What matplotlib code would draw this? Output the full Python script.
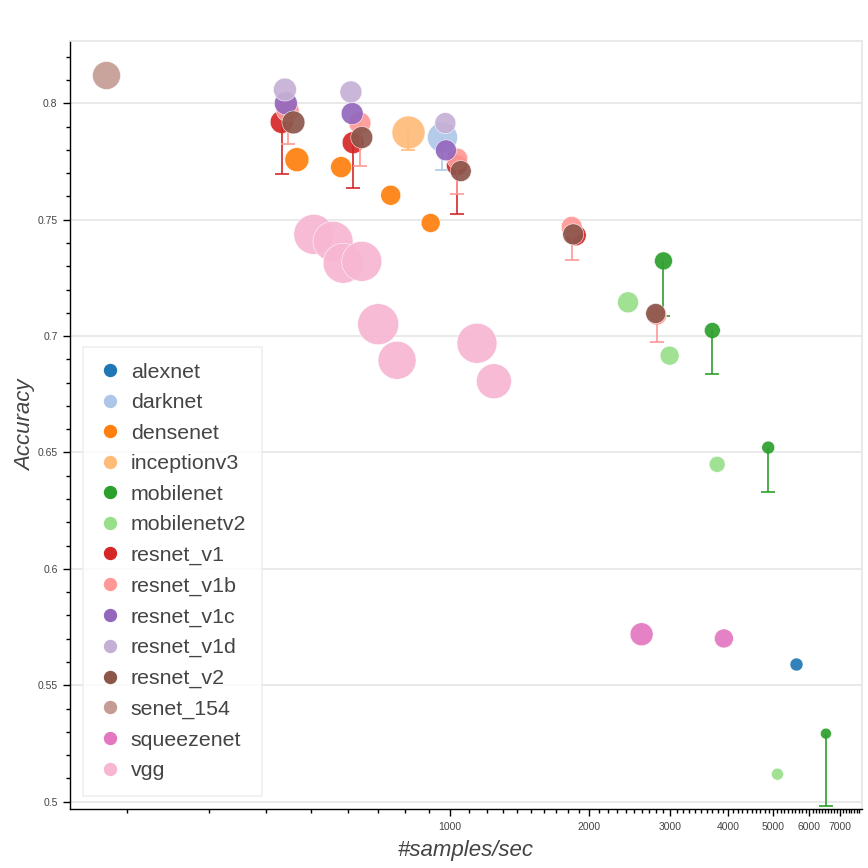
import numpy as np
import matplotlib
matplotlib.use('Agg')
import matplotlib.pyplot as plt
from matplotlib.lines import Line2D
from matplotlib.ticker import FixedLocator, FixedFormatter, NullFormatter, MultipleLocator

plt.rcParams['font.family'] = ['Liberation Sans', 'DejaVu Sans']

families = ['alexnet', 'darknet', 'densenet', 'inceptionv3', 'mobilenet', 'mobilenetv2',
            'resnet_v1', 'resnet_v1b', 'resnet_v1c', 'resnet_v1d', 'resnet_v2',
            'senet_154', 'squeezenet', 'vgg']
colors = ['#1f77b4', '#aec7e8', '#ff7f0e', '#ffbb78', '#2ca02c', '#98df8a',
          '#d62728', '#ff9896', '#9467bd', '#c5b0d5', '#8c564b',
          '#c49c94', '#e377c2', '#f7b6d2']

# one entry per model
point_family = (['alexnet', 'darknet'] + ['densenet'] * 4 + ['inceptionv3']
                + ['mobilenet'] * 4 + ['mobilenetv2'] * 4 + ['resnet_v1'] * 4
                + ['resnet_v1b'] * 5 + ['resnet_v1c'] * 3 + ['resnet_v1d'] * 3
                + ['resnet_v2'] * 5 + ['senet_154'] + ['squeezenet'] * 2 + ['vgg'] * 8)
samples_per_sec = [5620, 962,
                   466, 581, 744, 908,
                   812,
                   2900, 3700, 4890, 6520,
                   2430, 2990, 3790, 5120,
                   432, 617, 1035, 1872,
                   445, 638, 1037, 1835, 2804,
                   441, 614, 980,
                   439, 610, 977,
                   458, 644, 1055, 1849, 2790,
                   180,
                   2600, 3920,
                   507, 558, 587, 644, 699, 768, 1144, 1245]
accuracy = [0.5591, 0.7855,
            0.7758, 0.7726, 0.7605, 0.7486,
            0.7875,
            0.7323, 0.7024, 0.6521, 0.5292,
            0.7145, 0.6916, 0.6449, 0.5118,
            0.7920, 0.7831, 0.7734, 0.7433,
            0.7970, 0.7915, 0.7762, 0.7469, 0.7090,
            0.8000, 0.7956, 0.7798,
            0.8059, 0.8049, 0.7915,
            0.7918, 0.7853, 0.7709, 0.7437, 0.7097,
            0.8122,
            0.5719, 0.5701,
            0.7437, 0.7407, 0.7313, 0.7321, 0.7051, 0.6896, 0.6969, 0.6806]
accuracy_low = [np.nan, 0.7715,
                np.nan, np.nan, np.nan, np.nan,
                0.7798,
                0.7086, 0.6837, 0.6329, 0.4982,
                np.nan, np.nan, np.nan, np.nan,
                0.7695, 0.7636, 0.7525, np.nan,
                0.7825, 0.7731, 0.7609, 0.7326, 0.6973,
                np.nan, np.nan, np.nan,
                np.nan, np.nan, np.nan,
                np.nan, np.nan, np.nan, np.nan, np.nan,
                np.nan,
                np.nan, np.nan,
                np.nan, np.nan, np.nan, np.nan, np.nan, np.nan, np.nan, np.nan]
# marker diameter in pixels (encodes model size)
model_size = [13, 30,
              24, 21, 20, 19,
              33,
              18, 16, 13, 11,
              21, 19, 16, 12,
              23, 22, 21, 21,
              23, 22, 21, 21, 20,
              23, 22, 21,
              23, 22, 21,
              23, 22, 21, 21, 20,
              28,
              23, 19,
              40, 40, 40, 40, 41, 38, 40, 35]

x_major = [1000, 2000, 3000, 4000, 5000, 6000, 7000]
x_minor = [v for v in range(200, 7800, 100) if v not in x_major]

fam = np.array(point_family)
xs = np.array(samples_per_sec, dtype=float)
ys = np.array(accuracy)
lows = np.array(accuracy_low)
sz = np.array(model_size, dtype=float)

fig = plt.figure(figsize=(8.68, 8.68), dpi=100)
ax = fig.add_axes([70 / 868, 58.7 / 868, 792 / 868, 768.6 / 868])

handles = []
for i, (name, c) in enumerate(zip(families, colors)):
    m = fam == name
    z = 3 + i * 0.1
    ax.scatter(xs[m], ys[m], s=(sz[m] * 0.72) ** 2, color=c, alpha=0.92,
               edgecolors='white', linewidths=0.4, zorder=z)
    w = m & ~np.isnan(lows)
    if w.any():
        ax.vlines(xs[w], lows[w], ys[w], color=c, lw=1.2, zorder=z + 0.01)
        ax.plot(xs[w], lows[w], ls='', marker='_', ms=9.5, mew=1.2, color=c, zorder=z + 0.01)
    handles.append(Line2D([], [], ls='', marker='o', ms=8.6, color=c, label=name))

ax.set_xscale('log')
ax.set_xlim(150.3, 7805)
ax.set_ylim(0.4967, 0.8269)

ax.xaxis.set_major_locator(FixedLocator(x_major))
ax.xaxis.set_major_formatter(FixedFormatter([str(v) for v in x_major]))
ax.xaxis.set_minor_locator(FixedLocator(x_minor))
ax.xaxis.set_minor_formatter(NullFormatter())
ax.yaxis.set_major_locator(FixedLocator([0.5, 0.55, 0.6, 0.65, 0.7, 0.75, 0.8]))
ax.yaxis.set_major_formatter(FixedFormatter(['0.5', '0.55', '0.6', '0.65', '0.7', '0.75', '0.8']))
ax.yaxis.set_minor_locator(MultipleLocator(0.01))

ax.tick_params(which='major', direction='out', length=5, width=1, colors='black',
               labelcolor='#444444', labelsize=7.5, pad=4)
ax.tick_params(which='minor', direction='out', length=3.2, width=1, colors='black')

ax.grid(axis='y', which='major', color='#e5e5e5', lw=1.2, zorder=0)
ax.set_axisbelow(True)
for s in ['top', 'right']:
    ax.spines[s].set_color('#e5e5e5')
    ax.spines[s].set_linewidth(1.2)
for s in ['left', 'bottom']:
    ax.spines[s].set_color('black')
    ax.spines[s].set_linewidth(1)

ax.set_xlabel('#samples/sec', fontsize=16, style='italic', color='#444444', labelpad=6)
ax.set_ylabel('Accuracy', fontsize=16, style='italic', color='#444444', labelpad=1)

leg = ax.legend(handles=handles, loc='lower left', bbox_to_anchor=(0.0164, 0.0173),
                borderaxespad=0, fontsize=15.4, labelcolor='#444444', frameon=True,
                fancybox=False, handlelength=1.0, handletextpad=0.5, borderpad=0.74,
                labelspacing=0.54)
leg.get_frame().set_facecolor((1, 1, 1, 0))
leg.get_frame().set_edgecolor('#ebebeb')
leg.get_frame().set_linewidth(1.2)

fig.savefig('out.png', dpi=100)
